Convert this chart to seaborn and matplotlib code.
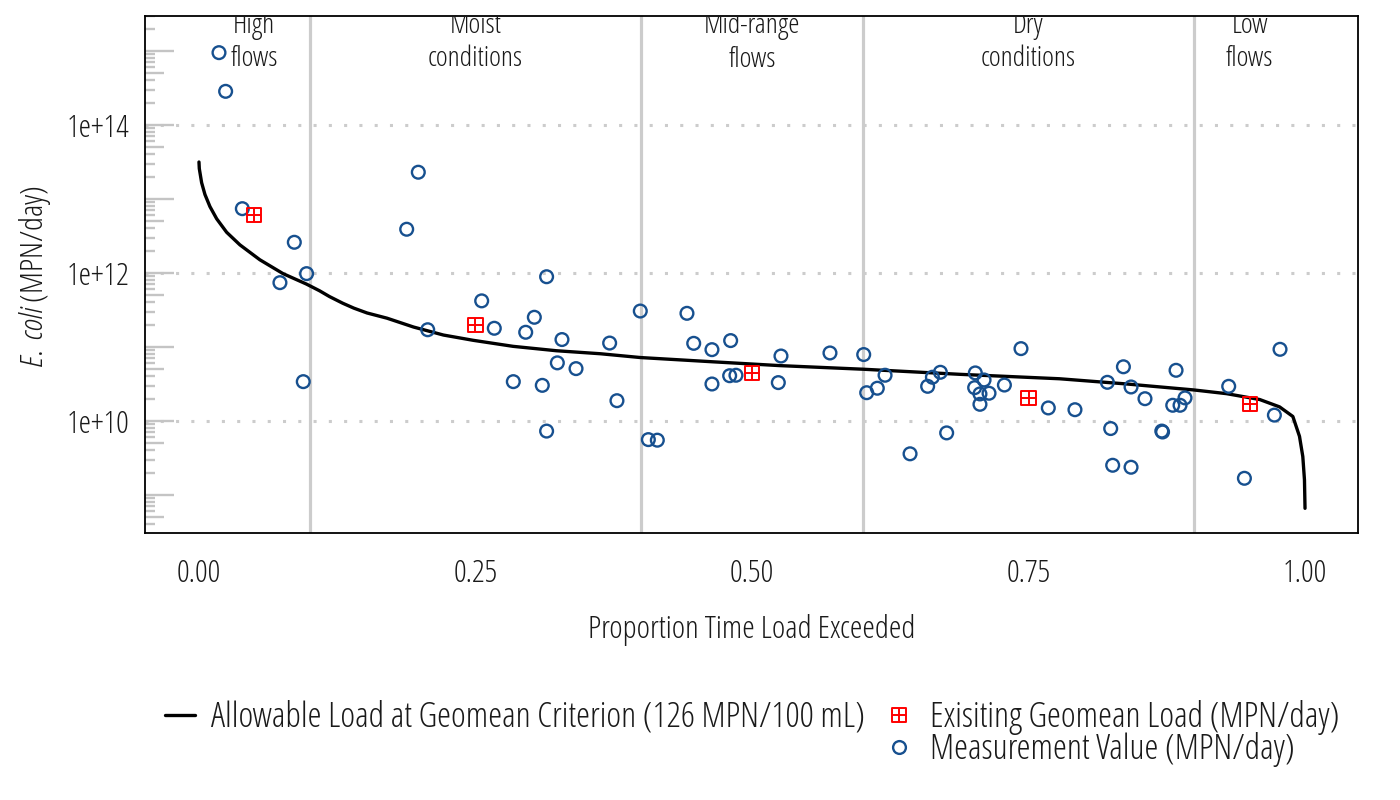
import matplotlib
matplotlib.use("Agg")
import matplotlib.pyplot as plt
import matplotlib.transforms as mtransforms
from matplotlib.path import Path
from matplotlib.lines import Line2D
import pandas as pd
import seaborn as sns

# ---------------- data ----------------
curve_x = [0.000, 0.0003, 0.0024, 0.0054, 0.0099, 0.016, 0.025, 0.037, 0.055, 0.076,
           0.097, 0.109, 0.118, 0.130, 0.140, 0.152, 0.170, 0.194, 0.221, 0.248,
           0.284, 0.323, 0.363, 0.399, 0.465, 0.525, 0.601, 0.688, 0.778, 0.839,
           0.899, 0.929, 0.959, 0.977, 0.989, 0.995, 0.998, 0.9995, 1.000]
curve_load = [3.16e13, 2.57e13, 1.66e13, 1.15e13, 7.9e12, 5.4e12, 3.55e12, 2.4e12, 1.51e12, 9.8e11,
              7.1e11, 5.75e11, 4.8e11, 3.9e11, 3.35e11, 2.88e11, 2.45e11, 1.86e11, 1.45e11, 1.23e11,
              1.02e11, 8.9e10, 8.1e10, 7.2e10, 6.3e10, 5.6e10, 5.0e10, 4.27e10, 3.72e10, 3.16e10,
              2.63e10, 2.34e10, 1.95e10, 1.55e10, 1.15e10, 6.2e9, 3.3e9, 1.6e9, 6.6e8]

geomean_x = [0.05, 0.25, 0.50, 0.75, 0.95]
geomean_load = [6.0e12, 2.0e11, 4.5e10, 2.05e10, 1.7e10]

meas_x = [0.0181, 0.0241, 0.0392, 0.0732, 0.0862, 0.0943, 0.0973, 0.1878, 0.1983, 0.2068,
          0.2556, 0.2670, 0.2842, 0.2954, 0.3032, 0.3104, 0.3143, 0.3143, 0.3240, 0.3282,
          0.3409, 0.3713, 0.3779, 0.3990, 0.4063, 0.4144, 0.4412, 0.4473, 0.4638, 0.4638,
          0.4798, 0.4807, 0.4855, 0.5238, 0.5262, 0.5705, 0.6010, 0.6037, 0.6133, 0.6203,
          0.6429, 0.6588, 0.6631, 0.6703, 0.6760, 0.7013, 0.7019, 0.7061, 0.7061, 0.7098,
          0.7143, 0.7282, 0.7432, 0.7679, 0.7920, 0.8213, 0.8243, 0.8261, 0.8358, 0.8427,
          0.8427, 0.8553, 0.8705, 0.8712, 0.8804, 0.8834, 0.8870, 0.8915, 0.9310, 0.9452,
          0.9723, 0.9774]
meas_load = [9.5e14, 2.85e14, 7.4e12, 7.4e11, 2.6e12, 3.4e10, 9.8e11, 3.9e12, 2.3e13, 1.71e11,
             4.2e11, 1.79e11, 3.4e10, 1.58e11, 2.52e11, 3.03e10, 8.9e11, 7.3e9, 6.1e10, 1.26e11,
             5.1e10, 1.13e11, 1.88e10, 3.06e11, 5.6e9, 5.5e9, 2.85e11, 1.12e11, 9.2e10, 3.16e10,
             4.09e10, 1.22e11, 4.15e10, 3.3e10, 7.55e10, 8.3e10, 7.9e10, 2.41e10, 2.77e10, 4.15e10,
             3.6e9, 2.94e10, 3.9e10, 4.55e10, 6.9e9, 2.82e10, 4.46e10, 2.32e10, 1.68e10, 3.58e10,
             2.37e10, 3.06e10, 9.5e10, 1.5e10, 1.42e10, 3.33e10, 7.9e9, 2.52e9, 5.4e10, 2.88e10,
             2.37e9, 2.0e10, 7.3e9, 7.1e9, 1.63e10, 4.84e10, 1.63e10, 2.05e10, 2.94e10, 1.68e9,
             1.2e10, 9.3e10]

zone_breaks = [0.1, 0.4, 0.6, 0.9]
zone_centers = [0.05, 0.25, 0.50, 0.75, 0.95]
zone_labels = ["High\nflows", "Moist\nconditions", "Mid-range\nflows", "Dry\nconditions", "Low\nflows"]

x_ticks = [0.0, 0.25, 0.5, 0.75, 1.0]
x_tick_labels = ["0.00", "0.25", "0.50", "0.75", "1.00"]
y_ticks = [1e10, 1e12, 1e14]
y_tick_labels = ["1e+10", "1e+12", "1e+14"]

line_label = "Allowable Load at Geomean Criterion (126 MPN/100 mL)"
geo_label = "Exisiting Geomean Load (MPN/day)"
meas_label = "Measurement Value (MPN/day)"

# ---------------- style ----------------
sns.set_theme(style="white")
FONT = "Open Sans"
plt.rcParams["font.family"] = [FONT, "DejaVu Sans"]
plt.rcParams["font.weight"] = 300
plt.rcParams["font.stretch"] = "condensed"
plt.rcParams["mathtext.fontset"] = "custom"
plt.rcParams["mathtext.it"] = "Open Sans:style=italic:weight=300:stretch=condensed"
plt.rcParams["mathtext.rm"] = "Open Sans:weight=300:stretch=condensed"

TXT = "#1a1a1a"
BLUE = "#17508f"
RED = "#ff0000"
GRID = "#cccccc"
FS_TICK = 22.7
FS_LAB = 23
FS_ZONE = 20.5
FS_LEG = 25.5

fig = plt.figure(figsize=(14, 8), dpi=100)
ax = fig.add_axes([145 / 1400, 267 / 800, 1213 / 1400, 517 / 800])
ax.set_yscale("log")

# zone separators and dotted grid
for b in zone_breaks:
    ax.axvline(b, color=GRID, lw=2.3, zorder=1)
for yt in y_ticks:
    ax.axhline(yt, color=GRID, lw=2.2, ls=(0, (1, 4)), dash_capstyle="butt", zorder=1)

# log tick annotations (gray, inside left)
trans = mtransforms.blended_transform_factory(ax.transAxes, ax.transData)
for dec in range(8, 16):
    for m in range(1, 10):
        v = m * 10.0 ** dec
        if m == 1:
            L = 0.024
        elif m == 5:
            L = 0.016
        else:
            L = 0.008
        ax.plot([0, L], [v, v], transform=trans, color="#c4c4c4", lw=1.7,
                solid_capstyle="butt", zorder=1, clip_on=True)

df_curve = pd.DataFrame({"x": curve_x, "load": curve_load})
df_geo = pd.DataFrame({"x": geomean_x, "load": geomean_load})
df_meas = pd.DataFrame({"x": meas_x, "load": meas_load})

sns.lineplot(data=df_curve, x="x", y="load", ax=ax, color="black", lw=2.4,
             estimator=None, sort=False, zorder=3)

sns.scatterplot(data=df_meas, x="x", y="load", ax=ax, marker="o", s=84,
                color=BLUE, facecolor="none", edgecolor=BLUE, linewidth=1.7, zorder=4)

sq_plus = Path([(-1, -1), (1, -1), (1, 1), (-1, 1), (-1, -1),
                (-1, 0), (1, 0), (0, -1), (0, 1)],
               [Path.MOVETO, Path.LINETO, Path.LINETO, Path.LINETO, Path.CLOSEPOLY,
                Path.MOVETO, Path.LINETO, Path.MOVETO, Path.LINETO])
sns.scatterplot(data=df_geo, x="x", y="load", ax=ax, marker=sq_plus, s=104,
                color=RED, facecolor="none", edgecolor=RED, linewidth=1.4, zorder=5)

# zone labels
for xc, lab in zip(zone_centers, zone_labels):
    ax.text(xc, 0.9485, lab, transform=ax.get_xaxis_transform(), ha="center", va="center",
            fontsize=FS_ZONE, color=TXT, clip_on=True, linespacing=1.25, zorder=6)

ax.set_xlim(-0.0488, 1.0479)
ax.set_ylim(10 ** 8.486, 10 ** 15.473)
ax.set_xticks(x_ticks)
ax.set_xticklabels(x_tick_labels)
ax.set_yticks(y_ticks)
ax.set_yticklabels(y_tick_labels)
ax.yaxis.set_minor_locator(matplotlib.ticker.NullLocator())
ax.tick_params(axis="both", which="major", length=9.5, width=2, color="black",
               labelsize=FS_TICK, labelcolor=TXT, direction="out")
ax.tick_params(axis="x", pad=8.5)
ax.tick_params(axis="y", pad=1.5)
ax.set_xlabel("")
ax.set_ylabel("")
for sp in ax.spines.values():
    sp.set_visible(True)
    sp.set_color("black")
    sp.set_linewidth(1.3)
ax.grid(False)

fig.text(751.5 / 1400, 1 - 630 / 800, "Proportion Time Load Exceeded", ha="center", va="center",
         fontsize=FS_LAB, color=TXT)
fig.text(35 / 1400, 1 - 276 / 800, r"$\mathit{E.\ coli}$ (MPN/day)", rotation=90,
         ha="center", va="center", fontsize=FS_LAB, color=TXT)

# legend
h_line = Line2D([], [], color="black", lw=2.4)
h_blank = Line2D([], [], linestyle="none", marker=None)
h_geo = Line2D([], [], linestyle="none", marker=sq_plus, markersize=10.2, mfc="none",
               mec=RED, mew=1.4)
h_meas = Line2D([], [], linestyle="none", marker="o", markersize=9.2, mfc="none",
                mec=BLUE, mew=1.7)
leg = fig.legend([h_line, h_blank, h_geo, h_meas], [line_label, "", geo_label, meas_label],
                 ncol=2, loc="center", bbox_to_anchor=(752 / 1400, 1 - 733.5 / 800),
                 frameon=False, fontsize=FS_LEG, handlelength=0.85, handletextpad=0.45,
                 columnspacing=0.55, labelspacing=-0.08, borderpad=0)
for t in leg.get_texts():
    t.set_color(TXT)

fig.savefig("out.png", dpi=100)
